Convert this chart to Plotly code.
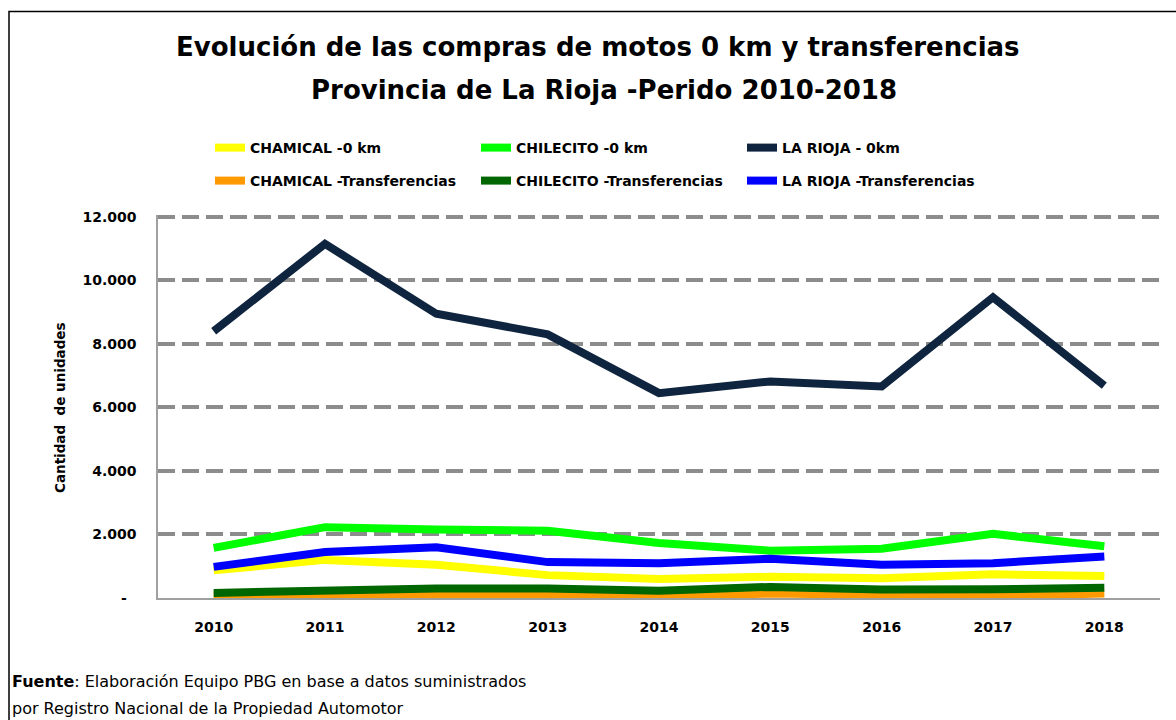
import plotly.graph_objects as go

years = ["2010", "2011", "2012", "2013", "2014", "2015", "2016", "2017", "2018"]
chamical_0km = [870, 1200, 1050, 720, 600, 670, 620, 745, 690]
chilecito_0km = [1580, 2230, 2160, 2120, 1730, 1490, 1550, 2020, 1630]
larioja_0km = [8400, 11150, 8950, 8300, 6450, 6820, 6660, 9470, 6690]
chamical_tr = [70, 110, 110, 85, 45, 140, 85, 65, 140]
chilecito_tr = [160, 255, 300, 300, 225, 350, 265, 275, 320]
larioja_tr = [980, 1450, 1600, 1130, 1095, 1235, 1045, 1095, 1310]

y_ticks = [0, 2000, 4000, 6000, 8000, 10000, 12000]
y_ticktext = ["-\u00a0\u00a0", "2.000", "4.000", "6.000", "8.000", "10.000", "12.000"]

series = [
    ("CHAMICAL -0 km", chamical_0km, "#FFFF00", "legend"),
    ("CHILECITO -0 km", chilecito_0km, "#00FF00", "legend"),
    ("LA RIOJA - 0km", larioja_0km, "#0F243E", "legend"),
    ("CHAMICAL -Transferencias", chamical_tr, "#FF9900", "legend2"),
    ("CHILECITO -Transferencias", chilecito_tr, "#006600", "legend2"),
    ("LA RIOJA -Transferencias", larioja_tr, "#0000FF", "legend2"),
]

W, H = 1176, 720
YMAX = 12060
L, R, B = 158, 16, 122
T = 215
PW, PH = W - L - R, H - T - B


def px_x(px):
    return (px - L) / PW


def px_y(py):
    return (H - B - py) / PH


fig = go.Figure()
for name, vals, color, leg in series:
    fig.add_trace(go.Scatter(
        x=years, y=vals, name=name, mode="lines",
        line=dict(color=color, width=8),
        legend=leg,
    ))

BOLD = "DejaVu Sans"
legend_common = dict(
    orientation="h", xanchor="left", yanchor="middle",
    font=dict(family=BOLD, size=14, color="black", weight="bold"),
    entrywidth=221, entrywidthmode="pixels", itemwidth=30,
    bgcolor="rgba(0,0,0,0)", traceorder="normal",
)

fig.update_layout(
    width=W, height=H,
    margin=dict(l=L, r=R, t=T, b=B, pad=0),
    paper_bgcolor="white", plot_bgcolor="white",
    showlegend=True,
    legend=dict(x=px_x(210), y=px_y(148), **legend_common),
    legend2=dict(x=px_x(210), y=px_y(181), **legend_common),
    xaxis=dict(
        type="category", range=[-0.5, 8.5],
        showgrid=False, zeroline=False,
        showline=True, linecolor="#A0A0A0", linewidth=1.5,
        ticks="", ticklabelstandoff=15,
        tickfont=dict(family=BOLD, size=14, color="black", weight="bold"),
        fixedrange=True,
    ),
    yaxis=dict(
        range=[0, YMAX], tickvals=y_ticks, ticktext=y_ticktext,
        showgrid=True, gridcolor="#8C8C8C", gridwidth=4, griddash="17px,7px",
        zeroline=False,
        showline=True, linecolor="#A0A0A0", linewidth=1.5,
        ticks="", ticklabelstandoff=17,
        tickfont=dict(family=BOLD, size=14, color="black", weight="bold"),
        fixedrange=True,
    ),
    shapes=[dict(
        type="rect", xref="paper", yref="paper",
        x0=px_x(9), x1=px_x(1190), y0=px_y(740), y1=px_y(11.5),
        line=dict(color="black", width=1.5), fillcolor="rgba(0,0,0,0)",
        layer="below",
    )],
    annotations=[
        dict(text="Evolución de las compras de motos 0 km y transferencias",
             x=px_x(598), y=px_y(47), xref="paper", yref="paper",
             xanchor="center", yanchor="middle", showarrow=False,
             font=dict(family=BOLD, size=26, color="black", weight="bold")),
        dict(text="Provincia de La Rioja -Perido 2010-2018",
             x=px_x(604), y=px_y(90), xref="paper", yref="paper",
             xanchor="center", yanchor="middle", showarrow=False,
             font=dict(family=BOLD, size=26, color="black", weight="bold")),
        dict(text="Cantidad  de unidades", textangle=-90,
             x=px_x(60), y=px_y(408), xref="paper", yref="paper",
             xanchor="center", yanchor="middle", showarrow=False,
             font=dict(family=BOLD, size=13.5, color="black", weight="bold")),
        dict(text="<b>Fuente</b>: Elaboración Equipo PBG en base a datos suministrados",
             x=px_x(10), y=px_y(681), xref="paper", yref="paper",
             xanchor="left", yanchor="middle", showarrow=False,
             font=dict(family="DejaVu Sans", size=16, color="black")),
        dict(text="por Registro Nacional de la Propiedad Automotor",
             x=px_x(10), y=px_y(708), xref="paper", yref="paper",
             xanchor="left", yanchor="middle", showarrow=False,
             font=dict(family="DejaVu Sans", size=16, color="black")),
    ],
)

fig.write_html("out.html", config={"displayModeBar": False},
               post_script="document.body.style.margin='0';document.body.style.overflow='hidden';")
